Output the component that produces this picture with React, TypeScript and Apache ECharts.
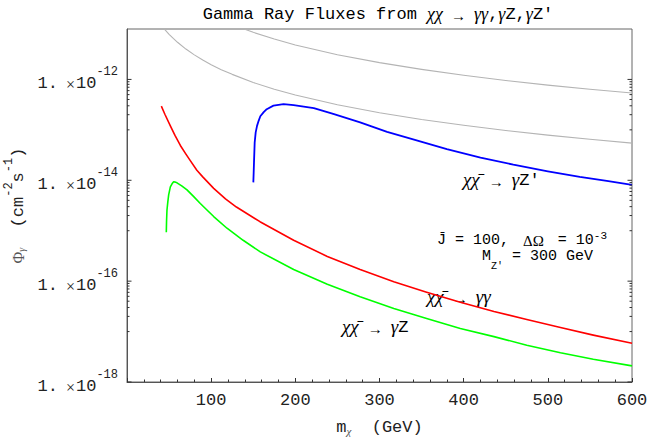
import React, { useEffect, useRef } from 'react';
import * as echarts from 'echarts';

// ---- data (m_chi in GeV, flux in cm^-2 s^-1) ----
const mGrayUpper = [130, 140, 150, 175, 200, 250, 300, 350, 400, 450, 500, 550, 600];
const fluxGrayUpper = [1.14e-11, 9.86e-12, 8.59e-12, 6.31e-12, 4.83e-12, 3.09e-12, 2.15e-12, 1.58e-12, 1.21e-12, 9.5e-13, 7.7e-13, 6.4e-13, 5.4e-13];

const mGrayLower = [40, 45, 50, 55, 60, 70, 80, 90, 100, 112, 125, 150, 175, 200, 250, 300, 350, 400, 450, 500, 550, 600];
const fluxGrayLower = [1.23e-11, 9.7e-12, 7.85e-12, 6.5e-12, 5.45e-12, 4.0e-12, 3.07e-12, 2.42e-12, 1.96e-12, 1.56e-12, 1.26e-12, 8.7e-13, 6.4e-13, 4.9e-13, 3.14e-13, 2.18e-13, 1.6e-13, 1.23e-13, 9.7e-14, 7.85e-14, 6.5e-14, 5.45e-14];

const mGammaZp = [150.1, 150.5, 150.9, 151.7, 152.9, 154.5, 156.4, 158.4, 162.4, 166, 174, 186, 198, 222, 245, 277, 309, 340, 380, 420, 459, 500, 538, 570, 600];
const fluxGammaZp = [9.1e-15, 1.41e-14, 2.29e-14, 5.62e-14, 8.91e-14, 1.2e-13, 1.51e-13, 1.86e-13, 2.24e-13, 2.57e-13, 3.02e-13, 3.24e-13, 3.09e-13, 2.69e-13, 2.07e-13, 1.41e-13, 9.12e-14, 6.46e-14, 4.17e-14, 2.82e-14, 2.04e-14, 1.51e-14, 1.17e-14, 9.77e-15, 8.13e-15];

const mGammaGamma = [40.8, 45, 51.5, 57, 63.4, 70, 75.2, 83, 90, 103, 117, 130, 158, 198, 238, 277, 317, 356, 396, 436, 475, 515, 554, 600];
const fluxGammaGamma = [2.95e-13, 2.04e-13, 1.2e-13, 7.76e-14, 4.9e-14, 3.31e-14, 2.45e-14, 1.58e-14, 1.17e-14, 6.92e-15, 4.27e-15, 2.95e-15, 1.51e-15, 6.46e-16, 3.09e-16, 1.7e-16, 9.77e-17, 6.03e-17, 3.8e-17, 2.51e-17, 1.74e-17, 1.2e-17, 8.51e-18, 5.89e-18];

const mGammaZ = [46.7, 47.0, 47.5, 48.5, 49.5, 51.5, 53.5, 55.4, 57.5, 59.4, 65, 71.3, 79, 87.1, 95, 103, 118.8, 138, 158.4, 198, 238, 277, 317, 356, 396, 436, 475, 515, 554, 600];
const fluxGammaZ = [9.33e-16, 1.58e-15, 2.57e-15, 3.72e-15, 5.13e-15, 7.41e-15, 8.51e-15, 9.33e-15, 9.2e-15, 8.91e-15, 7.76e-15, 6.46e-15, 4.79e-15, 3.47e-15, 2.57e-15, 1.91e-15, 1.12e-15, 6.46e-16, 3.8e-16, 1.7e-16, 8.71e-17, 4.9e-17, 2.88e-17, 1.82e-17, 1.15e-17, 7.94e-18, 5.37e-18, 3.8e-18, 2.82e-18, 2.09e-18];

const xTickValues = [100, 200, 300, 400, 500, 600];
const yLabelExponents = [-18, -16, -14, -12];

const MONO = "'Liberation Mono', 'Courier New', monospace";
const SERIF = "'Liberation Serif', 'DejaVu Serif', serif";

const zip = (xs: number[], ys: number[]) => xs.map((x, i) => [x, ys[i]]);

// log tick marks: major at labelled decade, minor k*10^(D-1)
const yTicks: { v: number; major: boolean }[] = [];
yLabelExponents.forEach((e) => {
  yTicks.push({ v: Math.pow(10, e), major: true });
  for (let k = 1; k <= 9; k++) {
    const v = k * Math.pow(10, e - 1);
    if (v >= 1e-18) yTicks.push({ v, major: false });
  }
});

const TXT = '#222';
const GRK = '#555';
const annRich = {
  g: { fontFamily: SERIF, fontStyle: 'italic', fontSize: 19, color: GRK, lineHeight: 24, verticalAlign: 'bottom' },
  a: { fontFamily: SERIF, fontSize: 15, color: GRK, lineHeight: 24, verticalAlign: 'bottom', padding: [0, 8, 0, 9] },
  m: { fontFamily: MONO, fontSize: 17, color: TXT, lineHeight: 24, verticalAlign: 'bottom' },
};

function lineSeries(name: string, xs: number[], ys: number[], color: string, width: number) {
  return {
    name,
    type: 'line',
    data: zip(xs, ys),
    showSymbol: false,
    symbol: 'none',
    smooth: false,
    clip: true,
    lineStyle: { color, width, join: 'round' },
    z: 3,
  };
}

export default function App() {
  const ref = useRef<HTMLDivElement>(null);
  useEffect(() => {
    if (!ref.current) return;
    const chart = echarts.init(ref.current, null, { renderer: 'svg' });
    const option: any = {
      animation: false,
      backgroundColor: '#fff',
      grid: {
        left: 127, right: 38, top: 29, bottom: 56,
        containLabel: false, outerBoundsMode: 'none',
        show: true, borderColor: '#666', borderWidth: 1, backgroundColor: 'transparent',
      },
      xAxis: {
        type: 'value',
        min: 0,
        max: 600,
        interval: 100,
        axisLine: { show: true, lineStyle: { color: '#555', width: 1 } },
        axisTick: { show: true, inside: true, length: 4, lineStyle: { color: '#333' } },
        minorTick: { show: true, splitNumber: 5, length: 2.5, lineStyle: { color: '#333' } },
        splitLine: { show: false },
        axisLabel: {
          margin: 10,
          fontFamily: MONO,
          fontSize: 17,
          color: TXT,
          formatter: (v: number) => (xTickValues.includes(v) ? String(v) : ''),
        },
        name: '{m|m}{s|χ}{m|  (GeV)}',
        nameLocation: 'middle',
        nameGap: 30,
        nameTextStyle: {
          rich: {
            m: { fontFamily: MONO, fontSize: 17, color: TXT, lineHeight: 24, verticalAlign: 'bottom' },
            s: { fontFamily: SERIF, fontStyle: 'italic', fontSize: 11, color: GRK, lineHeight: 12, verticalAlign: 'bottom' },
          },
        },
      },
      yAxis: {
        type: 'log',
        logBase: 10,
        min: 1e-18,
        max: 1e-11,
        axisLine: { show: true, lineStyle: { color: '#555', width: 1 } },
        axisTick: { show: false },
        splitLine: { show: false },
        axisLabel: {
          margin: 9,
          formatter: (v: number) => {
            const e = Math.round(Math.log10(v));
            if (!yLabelExponents.includes(e)) return '';
            return `{b|1.}{x|×}{b|10}{s|${e}}`;
          },
          rich: {
            b: { fontFamily: MONO, fontSize: 17, color: TXT, lineHeight: 26, verticalAlign: 'bottom' },
            x: { fontFamily: SERIF, fontSize: 16, color: TXT, lineHeight: 26, verticalAlign: 'bottom', padding: [0, 1, 0, 8] },
            s: { fontFamily: MONO, fontSize: 12, color: TXT, lineHeight: 14, verticalAlign: 'top' },
          },
        },
        name: '{p|Φ}{g|γ}{m|  (cm}{s|-2}{m|s}{s|-1}{m|)}',
        nameLocation: 'middle',
        nameRotate: 90,
        nameGap: 92,
        nameTextStyle: {
          rich: {
            p: { fontFamily: SERIF, fontSize: 16, color: GRK, lineHeight: 24, verticalAlign: 'bottom' },
            g: { fontFamily: SERIF, fontStyle: 'italic', fontSize: 10, color: GRK, lineHeight: 12, verticalAlign: 'bottom' },
            m: { fontFamily: MONO, fontSize: 17, color: TXT, lineHeight: 24, verticalAlign: 'bottom' },
            s: { fontFamily: MONO, fontSize: 12, color: TXT, lineHeight: 12, verticalAlign: 'top' },
          },
        },
      },
      series: [
        lineSeries('grayUpper', mGrayUpper, fluxGrayUpper, '#b4b4b4', 1.1),
        lineSeries('grayLower', mGrayLower, fluxGrayLower, '#b4b4b4', 1.1),
        lineSeries('γZ′', mGammaZp, fluxGammaZp, '#0000ff', 1.8),
        lineSeries('γγ', mGammaGamma, fluxGammaGamma, '#ff0000', 1.6),
        lineSeries('γZ', mGammaZ, fluxGammaZ, '#00ff00', 1.6),
        {
          type: 'custom',
          coordinateSystem: 'cartesian2d',
          silent: true,
          clip: false,
          z: 5,
          data: yTicks.map((t) => [0, t.v, t.major ? 1 : 0]),
          renderItem: (params: any, api: any) => {
            const y = api.coord([0, api.value(1)])[1];
            const cs = params.coordSys;
            const len = api.value(2) ? 4.5 : 2.5;
            const st = { stroke: '#333', lineWidth: 1 };
            return {
              type: 'group',
              children: [
                { type: 'line', shape: { x1: cs.x, y1: y, x2: cs.x + len, y2: y }, style: st },
                { type: 'line', shape: { x1: cs.x + cs.width, y1: y, x2: cs.x + cs.width - len, y2: y }, style: st },
              ],
            };
          },
        },
      ],
      graphic: [
        {
          type: 'text',
          x: 378,
          y: 12,
          style: {
            text: '{m|Gamma Ray Fluxes from }{g|χχ}{a|→}{g|γγ}{m|,}{g|γ}{m|Z,}{g|γ}{m|Z′}',
            align: 'center',
            verticalAlign: 'middle',
            rich: {
              m: { fontFamily: MONO, fontSize: 17, color: TXT, lineHeight: 22, verticalAlign: 'bottom' },
              g: { fontFamily: SERIF, fontStyle: 'italic', fontSize: 18, color: GRK, lineHeight: 22, verticalAlign: 'bottom' },
              a: { fontFamily: SERIF, fontSize: 15, color: GRK, lineHeight: 22, verticalAlign: 'bottom', padding: [0, 8, 0, 8] },
            },
          },
        },
        {
          type: 'text',
          x: 463,
          y: 177,
          style: { text: '{g|χχ̄}{a|→}{g|γ}{m|Z′}', align: 'left', verticalAlign: 'middle', rich: annRich },
        },
        {
          type: 'text',
          x: 437,
          y: 230,
          style: {
            text: '{m|J̄ = 100, }{g|ΔΩ}{m| = 10}{s|-3}',
            align: 'left',
            verticalAlign: 'top',
            rich: {
              m: { fontFamily: MONO, fontSize: 15, color: TXT, lineHeight: 18, verticalAlign: 'bottom' },
              g: { fontFamily: SERIF, fontSize: 15, color: GRK, lineHeight: 18, verticalAlign: 'bottom', padding: [0, 5, 0, 5] },
              s: { fontFamily: MONO, fontSize: 11, color: TXT, lineHeight: 8, verticalAlign: 'top' },
            },
          },
        },
        {
          type: 'text',
          x: 482,
          y: 249,
          style: {
            text: '{m|M}{z|Z′}{m| = 300 GeV}',
            align: 'left',
            verticalAlign: 'top',
            rich: {
              m: { fontFamily: MONO, fontSize: 15, color: TXT, lineHeight: 16, verticalAlign: 'top' },
              z: { fontFamily: MONO, fontSize: 10, color: TXT, lineHeight: 22, verticalAlign: 'bottom' },
            },
          },
        },
        {
          type: 'text',
          x: 427,
          y: 294,
          style: { text: '{g|χχ̄}{a|→}{g|γγ}', align: 'left', verticalAlign: 'middle', rich: annRich },
        },
        {
          type: 'text',
          x: 342,
          y: 324,
          style: { text: '{g|χχ̄}{a|→}{g|γ}{m|Z}', align: 'left', verticalAlign: 'middle', rich: annRich },
        },
      ],
    };
    chart.setOption(option);
    return () => chart.dispose();
  }, []);
  return <div ref={ref} style={{ position: 'fixed', left: 0, top: 0, width: 670, height: 438 }} />;
}
